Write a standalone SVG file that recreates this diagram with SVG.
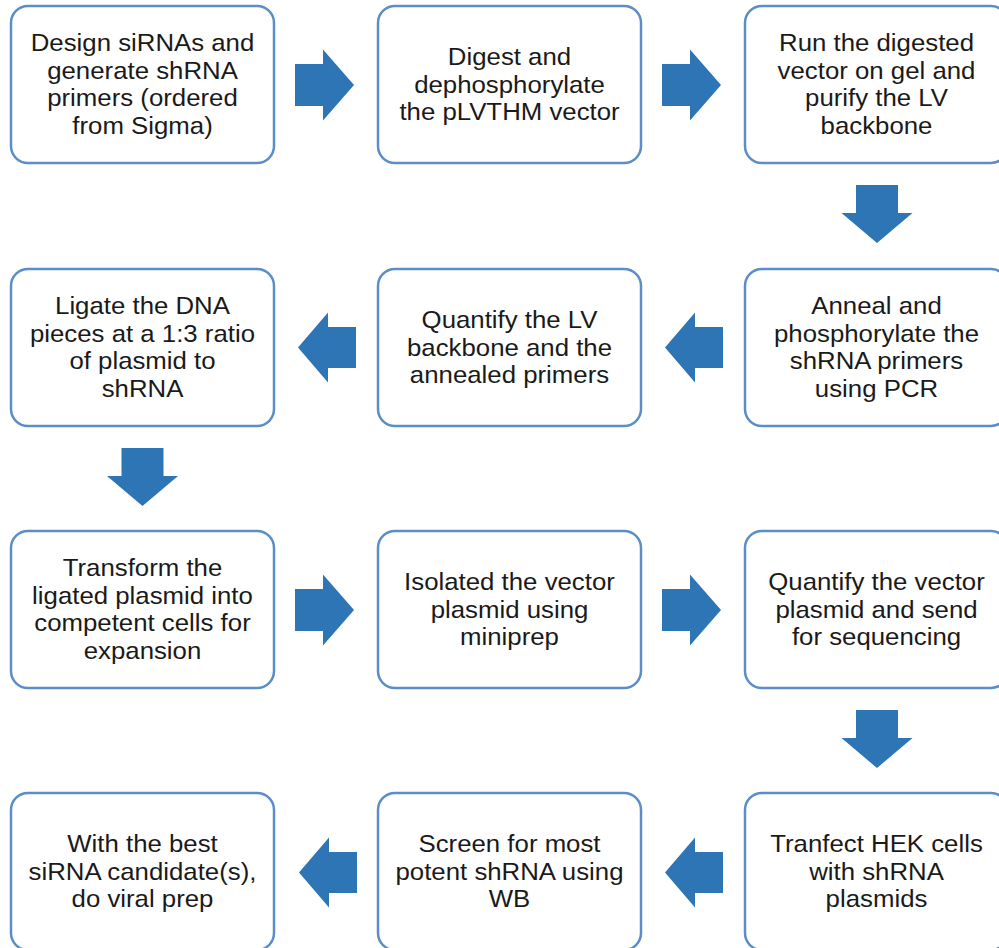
<svg xmlns="http://www.w3.org/2000/svg" width="999" height="948" viewBox="0 0 999 948">
<style>
.box{fill:#fff;stroke:#5b8ec8;stroke-width:2.5}
.arr{fill:#2e75b6}
text{font-family:"Liberation Sans",Arial,sans-serif;font-size:24px;fill:#1a1a1a;text-anchor:middle}
</style>
<rect width="999" height="948" fill="#fff"/>
<defs>
<rect id="b" class="box" x="0" y="0" width="263" height="157" rx="17"/>
<polygon id="ar" class="arr" points="0,-21 28,-21 28,-35.5 59,0 28,35.5 28,21 0,21"/>
<polygon id="al" class="arr" points="0,0 30,-35 30,-20.5 58,-20.5 58,20.5 30,20.5 30,35"/>
<polygon id="ad" class="arr" points="-21,0 21,0 21,28 35.5,28 0,58 -35.5,28 -21,28"/>
</defs>
<g id="connectors">
<use href="#ar" x="295" y="85"/>
<use href="#ar" x="662" y="85"/>
<use href="#ad" x="877" y="185"/>
<use href="#al" x="665" y="347.5"/>
<use href="#al" x="298" y="347.5"/>
<use href="#ad" x="142.5" y="448"/>
<use href="#ar" x="295" y="610"/>
<use href="#ar" x="662" y="610"/>
<use href="#ad" x="877" y="710"/>
<use href="#al" x="665" y="872.5"/>
<use href="#al" x="299" y="872.5"/>
</g>
<g id="n1"><use href="#b" x="11" y="6"/><g transform="translate(142.5,0) scale(1.075,1)"><text x="0" y="51.5">Design siRNAs and</text><text x="0" y="79">generate shRNA</text><text x="0" y="106.5">primers (ordered</text><text x="0" y="134">from Sigma)</text></g></g>
<g id="n2"><use href="#b" x="378" y="6"/><g transform="translate(509.5,0) scale(1.075,1)"><text x="0" y="65.5">Digest and</text><text x="0" y="93">dephosphorylate</text><text x="0" y="120.5">the pLVTHM vector</text></g></g>
<g id="n3"><use href="#b" x="745" y="6"/><g transform="translate(876.5,0) scale(1.075,1)"><text x="0" y="51.5">Run the digested</text><text x="0" y="79">vector on gel and</text><text x="0" y="106.5">purify the LV</text><text x="0" y="134">backbone</text></g></g>
<g id="n4"><use href="#b" x="11" y="269"/><g transform="translate(142.5,0) scale(1.075,1)"><text x="0" y="314.5">Ligate the DNA</text><text x="0" y="342">pieces at a 1:3 ratio</text><text x="0" y="369.5">of plasmid to</text><text x="0" y="397">shRNA</text></g></g>
<g id="n5"><use href="#b" x="378" y="269"/><g transform="translate(509.5,0) scale(1.075,1)"><text x="0" y="328.5">Quantify the LV</text><text x="0" y="356">backbone and the</text><text x="0" y="383.5">annealed  primers</text></g></g>
<g id="n6"><use href="#b" x="745" y="269"/><g transform="translate(876.5,0) scale(1.075,1)"><text x="0" y="314.5">Anneal and</text><text x="0" y="342">phosphorylate the</text><text x="0" y="369.5">shRNA primers</text><text x="0" y="397">using PCR</text></g></g>
<g id="n7"><use href="#b" x="11" y="531"/><g transform="translate(142.5,0) scale(1.075,1)"><text x="0" y="576.5">Transform the</text><text x="0" y="604">ligated plasmid into</text><text x="0" y="631.5">competent cells for</text><text x="0" y="659">expansion</text></g></g>
<g id="n8"><use href="#b" x="378" y="531"/><g transform="translate(509.5,0) scale(1.075,1)"><text x="0" y="590.5">Isolated the vector</text><text x="0" y="618">plasmid using</text><text x="0" y="645.5">miniprep</text></g></g>
<g id="n9"><use href="#b" x="745" y="531"/><g transform="translate(876.5,0) scale(1.075,1)"><text x="0" y="590.5">Quantify the vector</text><text x="0" y="618">plasmid and send</text><text x="0" y="645.5">for sequencing</text></g></g>
<g id="n10"><use href="#b" x="11" y="793"/><g transform="translate(142.5,0) scale(1.075,1)"><text x="0" y="852.5">With the best</text><text x="0" y="880">siRNA candidate(s),</text><text x="0" y="907.5">do viral prep</text></g></g>
<g id="n11"><use href="#b" x="378" y="793"/><g transform="translate(509.5,0) scale(1.075,1)"><text x="0" y="852.5">Screen for most</text><text x="0" y="880">potent shRNA using</text><text x="0" y="907.5">WB</text></g></g>
<g id="n12"><use href="#b" x="745" y="793"/><g transform="translate(876.5,0) scale(1.075,1)"><text x="0" y="852.5">Tranfect HEK cells</text><text x="0" y="880">with shRNA</text><text x="0" y="907.5">plasmids</text></g></g>
</svg>
